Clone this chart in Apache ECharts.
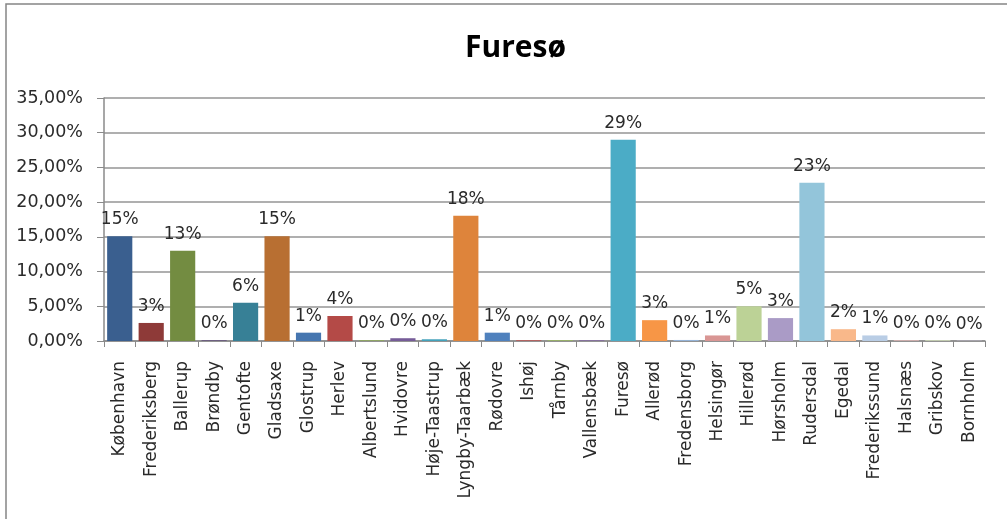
<!DOCTYPE html>
<html>
<head>
<meta charset="utf-8">
<title>Furesø</title>
<script src="https://cdn.jsdelivr.net/npm/echarts@6/dist/echarts.min.js"></script>
<style>
  html, body { margin: 0; padding: 0; background: #fff; }
  #chart { width: 1007px; height: 519px; }
</style>
</head>
<body>
<div id="chart"></div>
<script>
// kommuner
var kommuner = ['København', 'Frederiksberg', 'Ballerup', 'Brøndby', 'Gentofte', 'Gladsaxe',
  'Glostrup', 'Herlev', 'Albertslund', 'Hvidovre', 'Høje-Taastrup', 'Lyngby-Taarbæk',
  'Rødovre', 'Ishøj', 'Tårnby', 'Vallensbæk', 'Furesø', 'Allerød',
  'Fredensborg', 'Helsingør', 'Hillerød', 'Hørsholm', 'Rudersdal', 'Egedal',
  'Frederikssund', 'Halsnæs', 'Gribskov', 'Bornholm'];

// andel i procent
var andel = [15.1, 2.6, 13.0, 0.1, 5.5, 15.1,
  1.2, 3.6, 0.1, 0.4, 0.25, 18.05,
  1.2, 0.1, 0.1, 0.1, 29.0, 3.0,
  0.15, 0.8, 5.0, 3.3, 22.8, 1.7,
  0.8, 0.1, 0.1, 0.05];

// farver pr. punkt (excel-paletten i nuancer)
var farver = ['#3a5f8f', '#8e3a38', '#738c41', '#5e4a7a', '#378096', '#b86f32',
  '#4676b0', '#b44a47', '#8fae52', '#765c98', '#43a2bb', '#de843b',
  '#4f81bd', '#c0504d', '#9bbb59', '#8064a2', '#4bacc6', '#f79646',
  '#95b3d7', '#d99694', '#bcd296', '#aa9bc6', '#93c5da', '#f9b88a',
  '#b9cde5', '#e6b9b8', '#d7e4bd', '#ccc1da'];

var yTicks = { min: 0, max: 35, interval: 5 };

var font = '"DejaVu Sans", sans-serif';

var data = andel.map(function (v, i) {
  return { value: v, itemStyle: { color: farver[i] } };
});

var myChart = echarts.init(document.getElementById('chart'));
myChart.setOption({
  animation: false,
  backgroundColor: '#fff',
  title: {
    text: 'Furesø',
    left: 460,
    top: 28,
    textStyle: { fontFamily: '"Open Sans", sans-serif', fontWeight: 'bold', fontSize: 30, color: '#000' }
  },
  grid: { left: 104, right: 22, top: 98, bottom: 178 },
  graphic: [{
    type: 'rect',
    shape: { x: 6, y: 4, width: 1020, height: 530 },
    style: { fill: 'none', stroke: '#858585', lineWidth: 1.5 },
    silent: true
  }],
  xAxis: {
    type: 'category',
    data: kommuner,
    axisLine: { lineStyle: { color: '#8a8a8a', width: 1.5 } },
    axisTick: { show: true, length: 6, lineStyle: { color: '#8a8a8a' } },
    axisLabel: {
      rotate: 90, interval: 0, margin: 20,
      fontFamily: font, fontSize: 17, color: '#2a2a2a'
    }
  },
  yAxis: {
    type: 'value',
    min: yTicks.min, max: yTicks.max, interval: yTicks.interval,
    axisLine: { show: true, lineStyle: { color: '#8a8a8a', width: 1.5 } },
    axisTick: { show: true, length: 7, lineStyle: { color: '#8a8a8a' } },
    splitLine: { lineStyle: { color: '#959595', width: 1.5 } },
    axisLabel: {
      margin: 21, fontFamily: font, fontSize: 17.5, color: '#2a2a2a',
      formatter: function (v) { return v.toFixed(2).replace('.', ',') + '%'; }
    }
  },
  series: [{
    type: 'bar',
    data: data,
    barCategoryGap: '20%',
    label: {
      show: true, position: 'top', distance: 8,
      fontFamily: font, fontSize: 17, color: '#2a2a2a',
      formatter: function (p) { return Math.round(p.value) + '%'; }
    }
  }]
});
window.addEventListener('resize', function () { myChart.resize(); });
</script>
</body>
</html>
